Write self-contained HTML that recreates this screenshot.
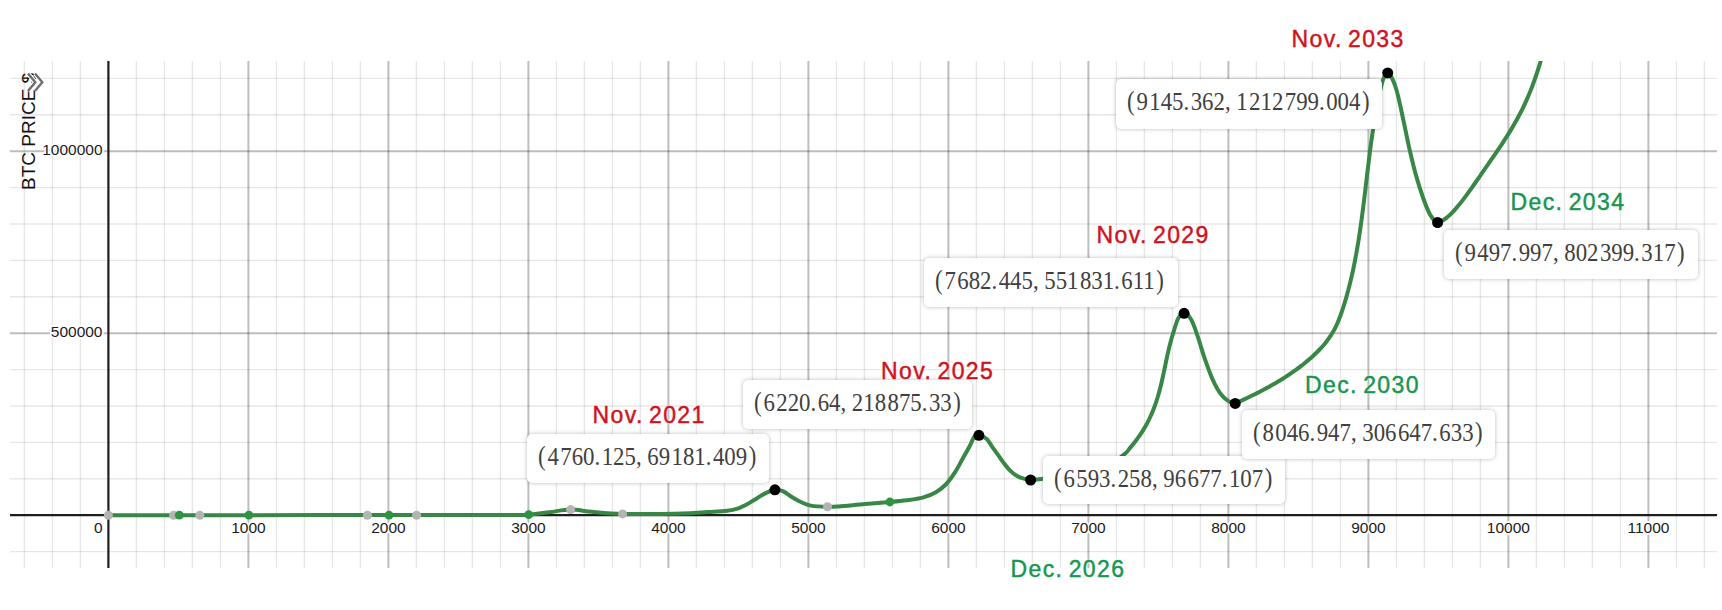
<!DOCTYPE html><html><head><meta charset="utf-8"><style>
html,body{margin:0;padding:0;background:#fff;width:1722px;height:610px;overflow:hidden;position:relative}
svg text{font-family:"Liberation Sans",sans-serif}
.al text{font-size:15.5px}
.halo text{fill:#fff;stroke:#fff;stroke-width:3.5px;stroke-linejoin:round}
.ink text{fill:#1a1a1a}
.box{position:absolute;background:#fff;border-radius:5px;box-shadow:0 0 4.5px rgba(0,0,0,.27);box-sizing:border-box}
.th{display:inline-block;width:1.6px}.sp{display:inline-block;width:4.5px}.d{margin-right:1.7px}
.p{display:inline-block;transform:scaleY(1.12) translateY(-1px)}.pl{margin-right:2px}.pr{margin-left:1.7px}
.bt{position:absolute;left:11px;top:4.5px;font-family:"Liberation Serif",serif;font-size:25px;color:#404040;white-space:nowrap;letter-spacing:0px;transform:scaleX(0.912);transform-origin:0 0;line-height:36px}
.lab{position:absolute;-webkit-text-stroke:0.45px currentColor;font-family:"Liberation Sans",sans-serif;font-size:23px;white-space:nowrap;line-height:23px;letter-spacing:1.4px;word-spacing:-2.5px;
 text-shadow:0 0 2px #fff,0 0 2px #fff}
.r{color:#d0121e}.g{color:#17964f}
.ylab{position:absolute;left:0;top:0;font-family:"Liberation Sans",sans-serif;font-size:19px;color:#111;white-space:nowrap;
 transform-origin:0 0;line-height:19px}

</style></head><body>
<svg width="1722" height="610" viewBox="0 0 1722 610" style="position:absolute;left:0;top:0">
<defs><clipPath id="gc"><rect x="10" y="61" width="1707" height="507"/></clipPath></defs>
<g clip-path="url(#gc)">
<g stroke="rgba(0,0,0,0.095)" stroke-width="1.4" fill="none"><path d="M24.4 61V568"/><path d="M52.4 61V568"/><path d="M80.4 61V568"/><path d="M136.4 61V568"/><path d="M164.4 61V568"/><path d="M192.4 61V568"/><path d="M220.4 61V568"/><path d="M276.4 61V568"/><path d="M304.4 61V568"/><path d="M332.4 61V568"/><path d="M360.4 61V568"/><path d="M416.4 61V568"/><path d="M444.4 61V568"/><path d="M472.4 61V568"/><path d="M500.4 61V568"/><path d="M556.4 61V568"/><path d="M584.4 61V568"/><path d="M612.4 61V568"/><path d="M640.4 61V568"/><path d="M696.4 61V568"/><path d="M724.4 61V568"/><path d="M752.4 61V568"/><path d="M780.4 61V568"/><path d="M836.4 61V568"/><path d="M864.4 61V568"/><path d="M892.4 61V568"/><path d="M920.4 61V568"/><path d="M976.4 61V568"/><path d="M1004.4 61V568"/><path d="M1032.4 61V568"/><path d="M1060.4 61V568"/><path d="M1116.4 61V568"/><path d="M1144.4 61V568"/><path d="M1172.4 61V568"/><path d="M1200.4 61V568"/><path d="M1256.4 61V568"/><path d="M1284.4 61V568"/><path d="M1312.4 61V568"/><path d="M1340.4 61V568"/><path d="M1396.4 61V568"/><path d="M1424.4 61V568"/><path d="M1452.4 61V568"/><path d="M1480.4 61V568"/><path d="M1536.4 61V568"/><path d="M1564.4 61V568"/><path d="M1592.4 61V568"/><path d="M1620.4 61V568"/><path d="M1676.4 61V568"/><path d="M1704.4 61V568"/><path d="M10 78.4H1717"/><path d="M10 114.8H1717"/><path d="M10 187.6H1717"/><path d="M10 224H1717"/><path d="M10 260.4H1717"/><path d="M10 296.8H1717"/><path d="M10 369.6H1717"/><path d="M10 406H1717"/><path d="M10 442.4H1717"/><path d="M10 478.8H1717"/><path d="M10 551.6H1717"/></g>
<g stroke="rgba(0,0,0,0.26)" stroke-width="2" fill="none"><path d="M248.4 61V568"/><path d="M388.4 61V568"/><path d="M528.4 61V568"/><path d="M668.4 61V568"/><path d="M808.4 61V568"/><path d="M948.4 61V568"/><path d="M1088.4 61V568"/><path d="M1228.4 61V568"/><path d="M1368.4 61V568"/><path d="M1508.4 61V568"/><path d="M1648.4 61V568"/><path d="M10 151.2H1717"/><path d="M10 333.2H1717"/></g>
<path d="M10 515.2H1717 M108.4 61V568" stroke="#1e1e1e" stroke-width="2.2" fill="none"/>
<g class="al halo" text-anchor="middle"><text x="248.4" y="533">1000</text><text x="388.4" y="533">2000</text><text x="528.4" y="533">3000</text><text x="668.4" y="533">4000</text><text x="808.4" y="533">5000</text><text x="948.4" y="533">6000</text><text x="1088.4" y="533">7000</text><text x="1228.4" y="533">8000</text><text x="1368.4" y="533">9000</text><text x="1508.4" y="533">10000</text><text x="1648.4" y="533">11000</text><text x="98.4" y="533">0</text></g><g class="al halo" text-anchor="end"><text x="102.5" y="155">1000000</text><text x="102.5" y="337">500000</text></g>
<g class="al ink" text-anchor="middle"><text x="248.4" y="533">1000</text><text x="388.4" y="533">2000</text><text x="528.4" y="533">3000</text><text x="668.4" y="533">4000</text><text x="808.4" y="533">5000</text><text x="948.4" y="533">6000</text><text x="1088.4" y="533">7000</text><text x="1228.4" y="533">8000</text><text x="1368.4" y="533">9000</text><text x="1508.4" y="533">10000</text><text x="1648.4" y="533">11000</text><text x="98.4" y="533">0</text></g><g class="al ink" text-anchor="end"><text x="102.5" y="155">1000000</text><text x="102.5" y="337">500000</text></g>
<path d="M108.4 515.2C143.67 515.18 254.73 515.13 320 515.1C385.27 515.07 465.22 515.07 500 515C534.78 514.93 520.43 515.17 528.7 514.7C536.97 514.23 542.62 513.05 549.6 512.2C556.58 511.35 563.53 509.67 570.6 509.6C577.67 509.53 583.33 511.08 592 511.8C600.67 512.52 611.27 513.53 622.6 513.9C633.93 514.27 648.77 514.12 660 514C671.23 513.88 681.9 513.52 690 513.2C698.1 512.88 702.4 512.52 708.6 512.1C714.8 511.68 722.25 511.33 727.2 510.7C732.15 510.07 735.22 509.23 738.3 508.3C741.38 507.37 742.92 506.57 745.7 505.1C748.48 503.63 751.9 501.37 755 499.5C758.1 497.63 760.97 495.52 764.3 493.9C767.63 492.28 771.9 490.27 775 489.8C778.1 489.33 780.03 489.87 782.9 491.1C785.77 492.33 789.1 495.33 792.2 497.2C795.3 499.07 798.4 500.9 801.5 502.3C804.6 503.7 806.47 504.83 810.8 505.6C815.13 506.37 822.85 506.75 827.5 506.9C832.15 507.05 832.43 506.98 838.7 506.5C844.97 506.02 856.57 504.75 865.1 504C873.63 503.25 883.02 502.62 889.9 502C896.78 501.38 900.93 501.03 906.4 500.3C911.87 499.57 917.78 498.95 922.7 497.6C927.62 496.25 931.97 494.47 935.9 492.2C939.83 489.93 943.1 487.33 946.3 484C949.5 480.67 952.4 476.37 955.1 472.2C957.8 468.03 960.03 463.42 962.5 459C964.97 454.58 967.93 449.4 969.9 445.7C971.87 442 972.83 438.53 974.3 436.8C975.77 435.07 976.67 434.97 978.7 435.3C980.73 435.63 984.25 436.88 986.5 438.8C988.75 440.72 990.28 444.13 992.2 446.8C994.12 449.47 996.08 452.12 998 454.8C999.92 457.48 1001.8 460.4 1003.7 462.9C1005.6 465.4 1007.3 467.7 1009.4 469.8C1011.5 471.9 1014 474.07 1016.3 475.5C1018.6 476.93 1020.8 477.67 1023.2 478.4C1025.6 479.13 1027.63 479.82 1030.7 479.9C1033.77 479.98 1036.72 479.3 1041.6 478.9C1046.48 478.5 1053.6 478.32 1060 477.5C1066.4 476.68 1073.33 474.92 1080 474C1086.67 473.08 1092.67 475.25 1100 472C1107.33 468.75 1119.02 458.47 1124 454.5C1128.98 450.53 1128.03 450.28 1129.87 448.16C1131.72 446.05 1133.46 443.94 1135.1 441.83C1136.73 439.71 1138.27 437.6 1139.71 435.49C1141.16 433.38 1142.5 431.26 1143.78 429.15C1145.05 427.04 1146.23 424.93 1147.34 422.82C1148.45 420.7 1149.48 418.59 1150.45 416.48C1151.42 414.37 1152.31 412.25 1153.16 410.14C1154 408.03 1154.78 405.92 1155.52 403.81C1156.26 401.69 1156.93 399.58 1157.58 397.47C1158.23 395.36 1158.82 393.24 1159.39 391.13C1159.96 389.02 1160.49 386.91 1161.01 384.79C1161.52 382.68 1162 380.57 1162.48 378.46C1162.95 376.35 1163.4 374.23 1163.85 372.12C1164.3 370.01 1164.73 367.9 1165.17 365.78C1165.62 363.67 1166.05 361.56 1166.51 359.45C1166.96 357.34 1167.41 355.22 1167.89 353.11C1168.37 351 1168.86 348.89 1169.39 346.77C1169.91 344.66 1170.45 342.55 1171.04 340.44C1171.63 338.32 1171.71 337.77 1172.9 334.1C1174.09 330.43 1176.32 321.9 1178.2 318.4C1180.08 314.9 1182.02 312.88 1184.2 313.1C1186.38 313.32 1189.03 315.77 1191.3 319.7C1193.57 323.63 1195.62 330.37 1197.8 336.7C1199.98 343.03 1201.98 350.7 1204.4 357.7C1206.82 364.7 1209.68 372.8 1212.3 378.7C1214.92 384.6 1217.48 389.4 1220.1 393.1C1222.72 396.8 1225.48 399.18 1228 400.9C1230.52 402.62 1233.21 403.34 1235.2 403.4C1237.19 403.46 1238.37 401.99 1239.96 401.27C1241.55 400.54 1243.14 399.81 1244.74 399.06C1246.34 398.32 1247.94 397.56 1249.53 396.79C1251.13 396.02 1252.74 395.24 1254.34 394.45C1255.93 393.65 1257.54 392.85 1259.13 392.03C1260.73 391.21 1262.33 390.38 1263.92 389.53C1265.51 388.68 1267.1 387.82 1268.68 386.95C1270.26 386.08 1271.84 385.19 1273.41 384.29C1274.98 383.38 1276.54 382.46 1278.1 381.53C1279.65 380.6 1281.2 379.65 1282.74 378.69C1284.27 377.72 1285.8 376.74 1287.32 375.75C1288.83 374.75 1290.34 373.74 1291.83 372.71C1293.32 371.68 1294.8 370.63 1296.26 369.57C1297.73 368.51 1299.18 367.43 1300.61 366.33C1302.04 365.23 1303.46 364.11 1304.86 362.98C1306.26 361.84 1307.65 360.69 1309.01 359.52C1310.37 358.34 1311.72 357.15 1313.04 355.94C1314.36 354.73 1315.66 353.5 1316.93 352.24C1318.2 350.98 1319.44 349.71 1320.65 348.41C1321.86 347.1 1323.03 345.78 1324.17 344.42C1325.31 343.07 1326.41 341.69 1327.47 340.28C1328.52 338.88 1329.54 337.44 1330.51 335.98C1331.48 334.51 1332.4 333.01 1333.27 331.49C1334.14 329.96 1334.96 328.4 1335.73 326.82C1336.51 325.24 1337.24 323.62 1337.93 321.99C1338.63 320.37 1339.28 318.71 1339.92 317.05C1340.55 315.38 1341.14 313.7 1341.72 312.01C1342.3 310.32 1342.86 308.62 1343.4 306.92C1343.94 305.21 1344.47 303.5 1344.98 301.79C1345.5 300.08 1346 298.37 1346.49 296.65C1346.97 294.93 1347.45 293.21 1347.91 291.49C1348.38 289.76 1348.83 288.04 1349.27 286.31C1349.71 284.58 1350.13 282.84 1350.55 281.11C1350.97 279.37 1351.37 277.63 1351.77 275.89C1352.17 274.15 1352.55 272.41 1352.93 270.66C1353.3 268.91 1353.67 267.17 1354.02 265.41C1354.38 263.66 1354.73 261.91 1355.07 260.15C1355.4 258.4 1355.73 256.64 1356.06 254.88C1356.38 253.12 1356.69 251.36 1357 249.6C1357.3 247.83 1357.6 246.07 1357.89 244.3C1358.19 242.53 1358.47 240.76 1358.75 238.99C1359.03 237.22 1359.3 235.45 1359.57 233.68C1359.84 231.9 1360.1 230.13 1360.35 228.35C1360.61 226.58 1360.86 224.8 1361.11 223.02C1361.35 221.24 1361.6 219.46 1361.83 217.68C1362.07 215.9 1362.31 214.12 1362.54 212.34C1362.77 210.56 1362.99 208.77 1363.22 206.99C1363.44 205.21 1363.67 203.42 1363.89 201.64C1364.11 199.85 1364.32 198.07 1364.54 196.28C1364.76 194.5 1364.97 192.71 1365.18 190.93C1365.4 189.14 1365.61 187.35 1365.82 185.57C1366.03 183.78 1366.24 182 1366.46 180.21C1366.67 178.42 1366.88 176.64 1367.09 174.85C1367.31 173.07 1367.52 171.28 1367.73 169.5C1367.95 167.71 1368.16 165.93 1368.38 164.14C1368.6 162.36 1368.82 160.58 1369.04 158.79C1369.27 157.01 1369.49 155.23 1369.72 153.45C1369.95 151.67 1370.18 149.89 1370.41 148.11C1370.65 146.33 1370.89 144.55 1371.13 142.78C1371.38 141 1371.62 139.22 1371.87 137.45C1372.13 135.68 1372.38 133.9 1372.65 132.13C1372.91 130.36 1373.18 128.59 1373.45 126.83C1373.73 125.06 1374.01 123.29 1374.29 121.53C1374.58 119.76 1374.87 118 1375.17 116.24C1375.48 114.48 1375.78 112.72 1376.1 110.96C1376.41 109.21 1376.74 107.45 1377.07 105.7C1377.4 103.95 1377.74 102.2 1378.09 100.45C1378.44 98.71 1378.8 96.96 1379.17 95.22C1379.54 93.48 1379.58 92.79 1380.3 90C1381.02 87.21 1382.27 81.35 1383.5 78.5C1384.73 75.65 1386.25 72.9 1387.7 72.9C1389.15 72.9 1390.73 75.65 1392.2 78.5C1393.67 81.35 1395.15 85.45 1396.5 90C1397.85 94.55 1398.85 99.33 1400.3 105.8C1401.75 112.27 1403.57 121.15 1405.2 128.8C1406.83 136.45 1408.33 144.07 1410.1 151.7C1411.87 159.33 1413.65 166.97 1415.8 174.6C1417.95 182.23 1420.62 190.82 1423 197.5C1425.38 204.18 1427.67 210.53 1430.1 214.7C1432.53 218.87 1435.64 221.47 1437.6 222.5C1439.56 223.53 1440.46 221.61 1441.89 220.87C1443.32 220.14 1444.75 219.17 1446.17 218.09C1447.6 217.01 1449.03 215.73 1450.46 214.37C1451.89 213 1453.32 211.48 1454.75 209.9C1456.18 208.31 1457.61 206.6 1459.04 204.85C1460.47 203.09 1461.9 201.25 1463.32 199.37C1464.75 197.49 1466.18 195.55 1467.61 193.59C1469.04 191.63 1470.47 189.62 1471.9 187.6C1473.33 185.59 1474.76 183.54 1476.19 181.5C1477.62 179.45 1479.05 177.39 1480.47 175.33C1481.9 173.27 1483.33 171.2 1484.76 169.14C1486.19 167.07 1487.62 165 1489.05 162.93C1490.48 160.86 1491.91 158.79 1493.34 156.7C1494.77 154.61 1496.2 152.53 1497.62 150.42C1499.05 148.3 1500.48 146.19 1501.91 144.03C1503.34 141.87 1504.77 139.69 1506.2 137.45C1507.63 135.22 1509.06 132.95 1510.49 130.6C1511.92 128.25 1513.35 125.85 1514.78 123.34C1516.2 120.83 1517.63 118.26 1519.06 115.54C1520.49 112.83 1521.92 110.02 1523.35 107.03C1524.78 104.05 1526.21 100.95 1527.64 97.63C1529.07 94.3 1530.5 90.84 1531.92 87.11C1533.35 83.38 1534.78 79.47 1536.21 75.25C1537.64 71.04 1539.37 65.68 1540.5 61.8C1541.63 57.92 1542.58 53.63 1543 52" stroke="#388746" stroke-width="4" fill="none" stroke-linejoin="round" stroke-linecap="round"/>
</g>
<circle cx="108.4" cy="515.2" r="4.5" fill="#b4b4b4"/>
<circle cx="173.6" cy="515.2" r="4.5" fill="#b4b4b4"/>
<circle cx="199.8" cy="515.2" r="4.5" fill="#b4b4b4"/>
<circle cx="367.4" cy="515.2" r="4.5" fill="#b4b4b4"/>
<circle cx="416.6" cy="515.2" r="4.5" fill="#b4b4b4"/>
<circle cx="570.6" cy="509.6" r="4.5" fill="#b4b4b4"/>
<circle cx="622.6" cy="513.9" r="4.5" fill="#b4b4b4"/>
<circle cx="827.5" cy="506.7" r="4.5" fill="#b4b4b4"/>
<circle cx="179.3" cy="515.2" r="4.4" fill="#2f9442"/>
<circle cx="248.9" cy="515.2" r="4.4" fill="#2f9442"/>
<circle cx="389" cy="515.2" r="4.4" fill="#2f9442"/>
<circle cx="528.7" cy="514.6" r="4.4" fill="#2f9442"/>
<circle cx="889.9" cy="502" r="4.4" fill="#2f9442"/>
<circle cx="774.9" cy="489.8" r="5.5" fill="#000"/>
<circle cx="978.9" cy="435.3" r="5.5" fill="#000"/>
<circle cx="1030.6" cy="480" r="5.5" fill="#000"/>
<circle cx="1184.1" cy="313.3" r="5.5" fill="#000"/>
<circle cx="1235.2" cy="403.4" r="5.5" fill="#000"/>
<circle cx="1387.7" cy="72.9" r="5.5" fill="#000"/>
<circle cx="1437.6" cy="222.5" r="5.5" fill="#000"/>
</svg>
<div class="box" style="left:527px;top:434px;width:242px;height:49px"><div class="bt"><span class="p pl">(</span>4<span class="th"></span>760<span class="d">.</span>125<span class="d">,</span><span class="sp"></span>69<span class="th"></span>181<span class="d">.</span>409<span class="p pr">)</span></div></div>
<div class="box" style="left:743px;top:380px;width:229px;height:49px"><div class="bt"><span class="p pl">(</span>6<span class="th"></span>220<span class="d">.</span>64<span class="d">,</span><span class="sp"></span>218<span class="th"></span>875<span class="d">.</span>33<span class="p pr">)</span></div></div>
<div class="box" style="left:1043px;top:456px;width:242px;height:48px"><div class="bt"><span class="p pl">(</span>6<span class="th"></span>593<span class="d">.</span>258<span class="d">,</span><span class="sp"></span>96<span class="th"></span>677<span class="d">.</span>107<span class="p pr">)</span></div></div>
<div class="box" style="left:924px;top:258px;width:254px;height:49px"><div class="bt"><span class="p pl">(</span>7<span class="th"></span>682<span class="d">.</span>445<span class="d">,</span><span class="sp"></span>551<span class="th"></span>831<span class="d">.</span>611<span class="p pr">)</span></div></div>
<div class="box" style="left:1242px;top:410px;width:253px;height:49px"><div class="bt"><span class="p pl">(</span>8<span class="th"></span>046<span class="d">.</span>947<span class="d">,</span><span class="sp"></span>306<span class="th"></span>647<span class="d">.</span>633<span class="p pr">)</span></div></div>
<div class="box" style="left:1116px;top:79px;width:266px;height:50px"><div class="bt"><span class="p pl">(</span>9<span class="th"></span>145<span class="d">.</span>362<span class="d">,</span><span class="sp"></span>1<span class="th"></span>212<span class="th"></span>799<span class="d">.</span>004<span class="p pr">)</span></div></div>
<div class="box" style="left:1444px;top:230px;width:254px;height:49px"><div class="bt"><span class="p pl">(</span>9<span class="th"></span>497<span class="d">.</span>997<span class="d">,</span><span class="sp"></span>802<span class="th"></span>399<span class="d">.</span>317<span class="p pr">)</span></div></div>
<div class="lab r" style="left:592.5px;top:404.03px">Nov. 2021</div>
<div class="lab r" style="left:881px;top:359.53px">Nov. 2025</div>
<div class="lab r" style="left:1096.5px;top:224.03px">Nov. 2029</div>
<div class="lab r" style="left:1291.5px;top:28.13px">Nov. 2033</div>
<div class="lab g" style="left:1010.5px;top:557.93px">Dec. 2026</div>
<div class="lab g" style="left:1305px;top:374.33px">Dec. 2030</div>
<div class="lab g" style="left:1510.5px;top:191.33px">Dec. 2034</div>
<div class="ylab" style="transform:translate(18.5px,190px) rotate(-90deg)">BTC PRICE $</div>
<svg width="24" height="24" viewBox="0 0 24 24" style="position:absolute;left:24px;top:70px"><path d="M4 3.5L11.3 12.2L4 21M11 3.5L18.3 12.2L11 21" stroke="#fff" stroke-width="4.6" fill="none"/><path d="M4 3.5L11.3 12.2L4 21M11 3.5L18.3 12.2L11 21" stroke="#6e6e6e" stroke-width="2.4" fill="none"/></svg>
</body></html>
